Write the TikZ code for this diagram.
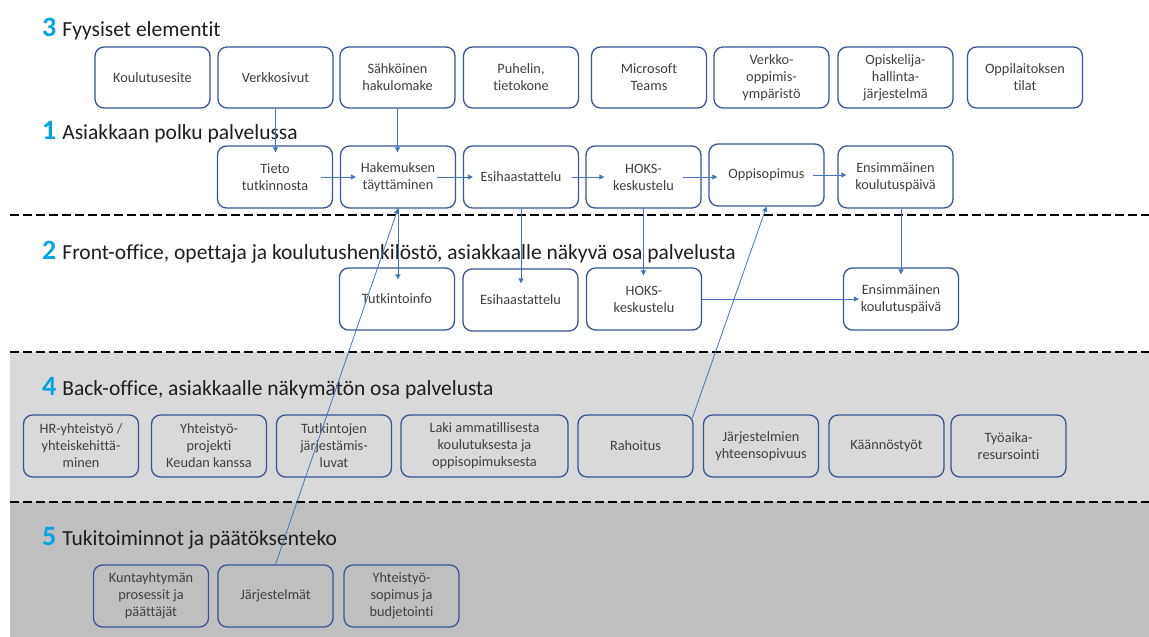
\documentclass[tikz,border=0pt]{standalone}
\usepackage{fontspec}
\setmainfont{Carlito}[Ligatures=NoCommon]
\usetikzlibrary{arrows.meta,calc}

\definecolor{numblue}{RGB}{0,164,230}
\definecolor{boxline}{RGB}{52,86,148}
\definecolor{flow}{RGB}{68,114,196}
\definecolor{bandA}{RGB}{217,217,217}
\definecolor{bandB}{RGB}{191,191,191}
\definecolor{txt}{RGB}{64,64,64}
\definecolor{head}{RGB}{30,30,30}

% lane heading: big blue number followed by the lane title
\newcommand{\lanehead}[2]{{\fontsize{28}{30}\selectfont\bfseries\color{numblue}#1}\hspace{6pt}{\fontsize{21.5}{24}\selectfont #2}}

\begin{document}
\begin{tikzpicture}[x=1pt,y=-1pt,
  box/.style={draw=boxline, line width=1.3pt, rounded corners=9pt,
    minimum width=115pt, minimum height=62pt, inner sep=0pt,
    align=center, text=txt, font=\fontsize{14.3}{17}\selectfont},
  flowline/.style={draw=flow, line width=0.8pt, -{Triangle[length=5pt,width=5pt]}},
  sepline/.style={line width=2.6pt, dash pattern=on 9pt off 4pt},
  lane/.style={anchor=base west, inner sep=0pt, text=head}]

\useasboundingbox (0,0) rectangle (1149,637);

% shaded bands for back-office and support functions
\fill[bandA] (10,352) rectangle (1149,502);
\fill[bandB] (10,502) rectangle (1149,637);

% lane separators
\draw[sepline] (10,215) -- (1149,215);
\draw[sepline] (10,352) -- (1149,352);
\draw[sepline] (10,502) -- (1149,502);

% lane headings
\node[lane] (h3) at (42,36)  {\lanehead{3}{Fyysiset elementit}};
\node[lane] (h1) at (42,139) {\lanehead{1}{Asiakkaan polku palvelussa}};
\node[lane] (h2) at (42,259) {\lanehead{2}{Front-office, opettaja ja koulutushenkilöstö, asiakkaalle näkyvä osa palvelusta}};
\node[lane] (h4) at (42,395) {\lanehead{4}{Back-office, asiakkaalle näkymätön osa palvelusta}};
\node[lane] (h5) at (42,545) {\lanehead{5}{Tukitoiminnot ja päätöksenteko}};

% 3: physical elements
\node[box, minimum height=61pt] (k3a) at (152.5,77.5) {Koulutusesite};
\node[box, minimum height=61pt] (k3b) at (275.5,77.5) {Verkkosivut};
\node[box, minimum height=61pt] (k3c) at (397.5,77.5) {Sähköinen\\hakulomake};
\node[box, minimum height=61pt] (k3d) at (521,77.5)   {Puhelin,\\tietokone};
\node[box, minimum height=61pt] (k3e) at (649,77.5)   {Microsoft\\Teams};
\node[box, minimum height=61pt] (k3f) at (771.5,77.5) {Verkko-\\oppimis-\\ympäristö};
\node[box, minimum height=61pt] (k3g) at (895.5,77.5) {Opiskelija-\\hallinta-\\järjestelmä};
\node[box, minimum height=61pt] (k3h) at (1025,77.5)  {Oppilaitoksen\\tilat};

% 1: customer path
\node[box] (tieto) at (275,177)   {Tieto\\tutkinnosta};
\node[box] (hake)  at (398,177)   {Hakemuksen\\täyttäminen};
\node[box] (esi1)  at (521,177)   {Esihaastattelu};
\node[box] (hoks1) at (643.5,177) {HOKS-\\keskustelu};
\node[box] (oppi)  at (766.5,175) {Oppisopimus};
\node[box] (ens1)  at (895.5,177) {Ensimmäinen\\koulutuspäivä};

% 2: front-office
\node[box] (tinfo) at (397,299)   {Tutkintoinfo};
\node[box] (esi2)  at (520.5,300) {Esihaastattelu};
\node[box] (hoks2) at (644,299)   {HOKS-\\keskustelu};
\node[box] (ens2)  at (901,299)   {Ensimmäinen\\koulutuspäivä};

% 4: back-office
\node[box] (hr)   at (81,446)     {HR-yhteistyö /\\yhteiskehittä-\\minen};
\node[box] (yprj) at (209,446)    {Yhteistyö-\\projekti\\Keudan kanssa};
\node[box] (tjl)  at (334,446)    {Tutkintojen\\järjestämis-\\luvat};
\node[box, minimum width=167pt] (laki) at (484.5,446) {Laki ammatillisesta\\koulutuksesta ja\\oppisopimuksesta};
\node[box] (rah)  at (635.5,446)  {Rahoitus};
\node[box] (jy)   at (761,446)    {Järjestelmien\\yhteensopivuus};
\node[box] (kaan) at (886.5,446)  {Käännöstyöt};
\node[box] (tyo)  at (1008.5,446) {Työaika-\\resursointi};

% 5: support functions
\node[box] (kunta) at (151,596)   {Kuntayhtymän\\prosessit ja\\päättäjät};
\node[box] (jarj)  at (275.5,596) {Järjestelmät};
\node[box] (ysop)  at (401.5,596) {Yhteistyö-\\sopimus ja\\budjetointi};

% physical elements feeding the path
\draw[flowline, shorten >=-7pt] (k3b.south) -- (k3b.south |- tieto.north);
\draw[flowline, shorten >=-7pt] (k3c.south) -- (k3c.south |- hake.north);

% steps of the customer path
\draw[flowline, shorten <=-12pt, shorten >=-16pt] (tieto.east) -- (tieto.east -| hake.west);
\draw[flowline, shorten <=-19pt, shorten >=-10pt] (hake.east) -- (hake.east -| esi1.west);
\draw[flowline, shorten <=-7pt, shorten >=-19pt] (esi1.east) -- (esi1.east -| hoks1.west);
\draw[flowline, shorten <=-19pt, shorten >=-9pt] (hoks1.east) -- (hoks1.east -| oppi.west);
\draw[flowline, shorten <=-12pt, shorten >=-9pt] (oppi.east) -- (oppi.east -| ens1.west);

% path to front-office
\draw[flowline, shorten >=-12pt] (hake.south) -- (hake.south |- tinfo.north);
\draw[flowline, shorten >=-15pt] (esi1.south) -- (esi1.south |- esi2.north);
\draw[flowline, shorten >=-8pt] (hoks1.south) -- (hoks1.south |- hoks2.north);
\draw[flowline, shorten >=-7pt] (ens2.north |- ens1.south) -- (ens2.north);
\draw[flowline, shorten >=-16pt] (hoks2.east) -- (hoks2.east -| ens2.west);

% back-office and support links
\draw[flowline, shorten <=-4pt] (rah.north east) -- (oppi.south);
\draw[flowline] (jarj.north) -- (hake.south);

\end{tikzpicture}
\end{document}
